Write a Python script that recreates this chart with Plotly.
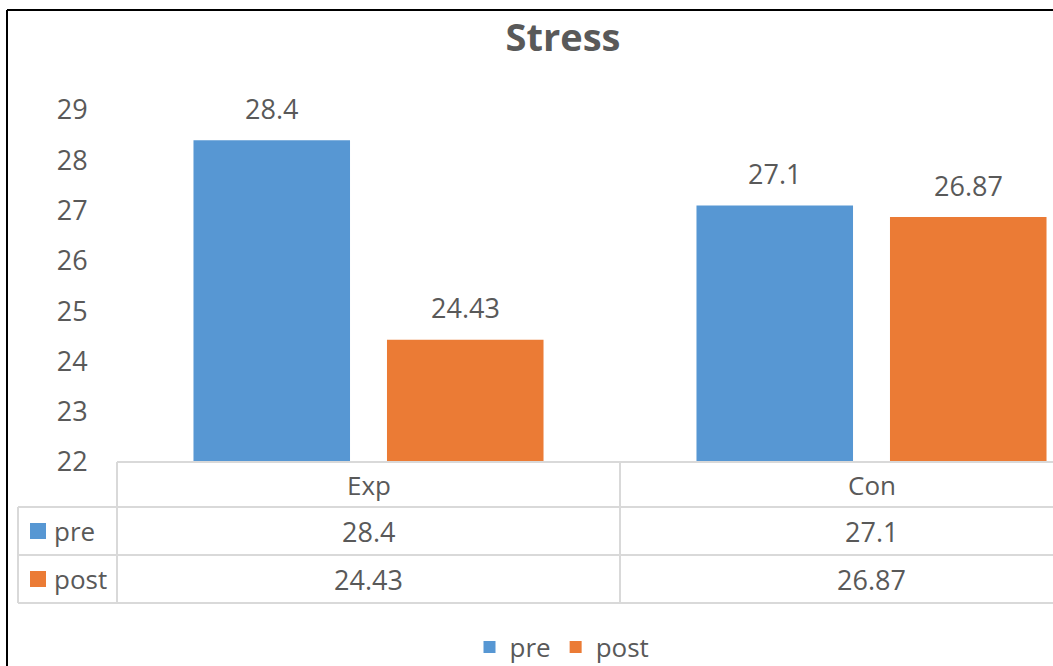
import plotly.graph_objects as go

# ---- data ----
categories = ["Exp", "Con"]
series_names = ["pre", "post"]
pre_values = [28.4, 27.1]
post_values = [24.43, 26.87]
y_ticks = [22, 23, 24, 25, 26, 27, 28, 29]
title_text = "Stress"

# ---- style ----
W, H = 1053, 666
L, T, B = 117, 110, 462
PW, PH = W - L, B - T
TXT = "#595959"
FONT = "Open Sans"
BLUE = "#5797d3"
ORANGE = "#eb7b35"
GRID = "#d9d9d9"
BARGAP = 0.2306
GROUPGAP = 0.191
CAT_PX = 503.0


def fx(px):
    return (px - L) / PW


def fy(py):
    return (B - py) / PH


series = [(series_names[0], pre_values, BLUE), (series_names[1], post_values, ORANGE)]

fig = go.Figure()
for name, vals, col in series:
    fig.add_trace(go.Bar(
        x=categories, y=vals, name=name,
        marker=dict(color=col, line=dict(width=0)),
        hoverinfo="skip",
    ))

annotations = []
half = (1 - BARGAP) / 4.0
for si, (name, vals, col) in enumerate(series):
    off = -half if si == 0 else half
    for ci, v in enumerate(vals):
        annotations.append(dict(
            x=ci + off, y=v, xref="x", yref="y", text=str(v), showarrow=False,
            yshift=32, yanchor="middle", font=dict(family=FONT, size=27, color=TXT)))

# data table: header and values
row_centers = [485, 531, 579]
for ci, c in enumerate(categories):
    annotations.append(dict(x=ci, y=fy(row_centers[0]), xref="x", yref="paper", text=c,
                            showarrow=False, yanchor="middle",
                            font=dict(family=FONT, size=26, color=TXT)))
    for si, (name, vals, col) in enumerate(series):
        annotations.append(dict(x=ci, y=fy(row_centers[si + 1]), xref="x", yref="paper",
                                text=str(vals[ci]), showarrow=False, yanchor="middle",
                                font=dict(family=FONT, size=27, color=TXT)))

shapes = []
# row labels with key squares
for si, (name, vals, col) in enumerate(series):
    yc = row_centers[si + 1]
    annotations.append(dict(x=fx(52), y=fy(yc), xref="paper", yref="paper", text=name,
                            showarrow=False, xanchor="left", yanchor="middle",
                            font=dict(family=FONT, size=26, color=TXT)))
    shapes.append(dict(type="rect", xref="paper", yref="paper",
                       x0=fx(30), x1=fx(46), y0=fy(yc + 8), y1=fy(yc - 8),
                       fillcolor=col, line=dict(width=0)))

# table grid lines
line = dict(color=GRID, width=2)
for py, x0 in [(462, 117), (507, 18), (555, 18), (603, 18)]:
    shapes.append(dict(type="line", xref="paper", yref="paper", x0=fx(x0), x1=fx(W),
                       y0=fy(py), y1=fy(py), line=line))
for px, y0 in [(18, 507), (117, 462)]:
    shapes.append(dict(type="line", xref="paper", yref="paper", x0=fx(px), x1=fx(px),
                       y0=fy(y0), y1=fy(603), line=line))
shapes.append(dict(type="line", xref="x", yref="paper", x0=0.5, x1=0.5,
                   y0=fy(462), y1=fy(603), line=line))

# outer frame (top + left)
frame = dict(color="#000000", width=2)
shapes.append(dict(type="line", xref="paper", yref="paper", x0=fx(7), x1=fx(W),
                   y0=fy(10), y1=fy(10), line=frame))
shapes.append(dict(type="line", xref="paper", yref="paper", x0=fx(7), x1=fx(7),
                   y0=fy(10), y1=fy(H), line=frame))

fig.update_layout(
    width=W, height=H,
    margin=dict(l=L, r=0, t=T, b=H - B, autoexpand=False),
    paper_bgcolor="white", plot_bgcolor="white",
    barmode="group", bargap=BARGAP, bargroupgap=GROUPGAP,
    title=dict(text="<b>" + title_text + "</b>", xref="container", x=563 / W,
               xanchor="center", yref="container", y=1 - 38 / H, yanchor="middle",
               font=dict(family=FONT, size=38, color=TXT)),
    xaxis=dict(type="category", categoryorder="array", categoryarray=categories,
               range=[-0.5, -0.5 + PW / CAT_PX], showticklabels=False,
               showgrid=False, zeroline=False, showline=False, ticks=""),
    yaxis=dict(range=[22, 29], tickvals=y_ticks, showgrid=False, zeroline=False,
               showline=False, ticks="outside", ticklen=23, tickcolor="rgba(0,0,0,0)",
               tickfont=dict(family=FONT, size=27, color=TXT)),
    legend=dict(orientation="h", x=fx(562), xanchor="center", y=fy(647), yanchor="middle",
                font=dict(family=FONT, size=26, color=TXT), bgcolor="rgba(0,0,0,0)"),
    annotations=annotations,
    shapes=shapes,
    font=dict(family=FONT, color=TXT),
)

fig.write_html("out.html")
